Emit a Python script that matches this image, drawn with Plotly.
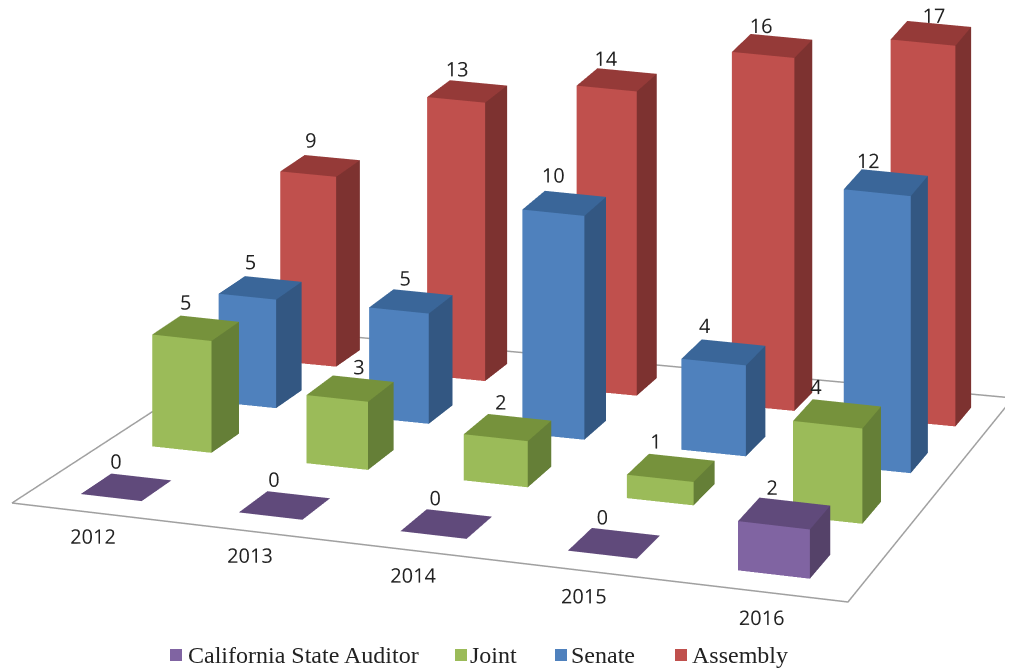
import numpy as np
import plotly.graph_objects as go

years = ["2012", "2013", "2014", "2015", "2016"]
series = ["California State Auditor", "Joint", "Senate", "Assembly"]
auditor = [0, 0, 0, 0, 2]
joint = [5, 3, 2, 1, 4]
senate = [5, 5, 10, 4, 12]
assembly = [9, 13, 14, 16, 17]
values = [auditor, joint, senate, assembly]
front_colors = ["#8064A2", "#9BBB59", "#4F81BD", "#C0504D"]
top_colors = ["#604A7B", "#76923C", "#3A6699", "#953A38"]
side_colors = ["#554269", "#657F37", "#335782", "#7D3230"]

# floor outline, in data units of the floor plane
floor_x = [-0.134, 5.195, 4.746, 0.189]
floor_y = [-0.004, -0.189, 4.102, 3.896]
# nudges that imitate the reference's perspective, in category widths
cat_shift = [0.01, 0.035, 0.04, 0.04, 0.015]
row_shift = [0.003, 0.008, 0.013, 0.02, 0.03]
# label placement nudges per series: sideways (category widths) and upward (value units)
label_side = [[0, 0, 0, 0, 0],
              [0, 0.125, 0.025, -0.03, -0.055],
              [0, 0.03, 0, -0.05, -0.035],
              [0, 0, 0, 0, 0.09]]
label_up = [[1.1, 1.1, 1.1, 1.1, 1.1],
            [1.1, 1.0, 1.1, 1.1, 1.1],
            [1.1, 1.0, 1.2, 1.1, 0.9],
            [1.1, 0.95, 0.9, 0.85, 0.8]]

# orthographic view
TH, EL, AX, AY, AZ = -1.2263, 0.3028, 1.6, 1.2373, 0.8888
S, CX0, CY0 = 527.1733, 540.6010, 232.4075
Zmax = 20.0
HH = 332.0
CX, CY = 510.5, 340.0
m = S/HH
d = np.array([np.cos(EL)*np.cos(TH), np.cos(EL)*np.sin(TH), np.sin(EL)])
r = np.cross(-d, [0, 0, 1.0]); r /= np.linalg.norm(r)
u_ = np.cross(r, -d)
cen = r*((CX-CX0)/HH) + u_*((CY0-CY)/HH)
eye = cen + 2*d

# map the category/series grid on to the floor quadrilateral
grid = [(0, 0), (5, 0), (5, 4), (0, 4)]
M, R = [], []
for (a, b), X, Y in zip(grid, floor_x, floor_y):
    M.append([a, b, 1, 0, 0, 0, -a*X, -b*X]); R.append(X)
    M.append([0, 0, 0, a, b, 1, -a*Y, -b*Y]); R.append(Y)
h = np.linalg.solve(np.array(M, float), np.array(R, float))

def warp(a, b):
    w = h[6]*a + h[7]*b + 1
    return (h[0]*a+h[1]*b+h[2])/w, (h[3]*a+h[4]*b+h[5])/w, w

wr = warp(4.5, 3.5)[2]

def zscale(a, b):
    return (wr/warp(a, b)[2])**0.8

W, D = 0.40, 0.42
fig = go.Figure()
fig.add_trace(go.Scatter3d(x=floor_x+floor_x[:1], y=floor_y+floor_y[:1], z=[0]*5, mode="lines",
                           line=dict(color="#A0A0A0", width=3), hoverinfo="skip", showlegend=False))
label_font = dict(family="Open Sans", size=20, color="#222")
for s_ in range(3, -1, -1):
    xs, ys, zs, ii, jj, kk, fc = [], [], [], [], [], [], []
    lx, ly, lz = [], [], []
    for c_ in range(5):
        a0, b0 = c_+.5+cat_shift[c_]+s_*row_shift[c_], s_+.5
        v = values[s_][c_]*zscale(a0, b0)
        n = len(xs)
        corners = [(a0-W/2, b0-D/2), (a0+W/2, b0-D/2), (a0+W/2, b0+D/2), (a0-W/2, b0+D/2)]
        wc = [warp(*q) for q in corners]
        xs += [q[0] for q in wc]*2
        ys += [q[1] for q in wc]*2
        zs += [0]*4+[v]*4
        for a, b, col in [((0, 1, 5), (0, 5, 4), front_colors[s_]), ((1, 2, 6), (1, 6, 5), side_colors[s_]), ((4, 5, 6), (4, 6, 7), top_colors[s_])]:
            for t in (a, b):
                ii.append(n + t[0]); jj.append(n + t[1]); kk.append(n + t[2]); fc.append(col)
        lp = warp(a0-.07+label_side[s_][c_], b0)
        lx.append(lp[0]); ly.append(lp[1]); lz.append(v+label_up[s_][c_])
    fig.add_trace(go.Mesh3d(x=xs, y=ys, z=zs, i=ii, j=jj, k=kk, facecolor=fc, flatshading=True,
                            lighting=dict(ambient=1, diffuse=0, specular=0, fresnel=0), hoverinfo="skip", showlegend=False))
    fig.add_trace(go.Scatter3d(x=lx, y=ly, z=lz, mode="text", text=[str(v) for v in values[s_]], textfont=label_font,
                               textposition="middle center", hoverinfo="skip", showlegend=False))
yl = [warp(c_*0.98+.72, -.39) for c_ in range(5)]
fig.add_trace(go.Scatter3d(x=[q[0] for q in yl], y=[q[1] for q in yl], z=[0]*5, mode="text", text=years, textfont=label_font,
                           textposition="middle center", hoverinfo="skip", showlegend=False))

leg_sq = [176, 461, 561, 681]
leg_tx = [186, 468, 569, 690]
shapes, ann = [], []
for i in range(4):
    px = lambda X: (X-8)/1005
    py = lambda Y: 1-(Y-8)/664
    shapes.append(dict(type="rect", xref="paper", yref="paper", x0=px(leg_sq[i]-6), x1=px(leg_sq[i]+6), y0=py(661), y1=py(649),
                       fillcolor=front_colors[i], line=dict(width=0)))
    ann.append(dict(text=series[i], xref="paper", yref="paper", x=px(leg_tx[i]), y=py(655), xanchor="left", yanchor="middle", showarrow=False,
                    font=dict(family="Liberation Serif", size=24, color="#222")))
fig.update_layout(
    width=1005, height=664, margin=dict(l=0, r=0, t=0, b=0), paper_bgcolor="white", showlegend=False,
    shapes=shapes, annotations=ann,
    scene=dict(
        domain=dict(x=[0, 1], y=[0, 1]),
        xaxis=dict(visible=False, range=[-1, 6]), yaxis=dict(visible=False, range=[-1, 5]), zaxis=dict(visible=False, range=[0, Zmax]),
        aspectmode="manual", aspectratio=dict(x=float(AX*m*7/5), y=float(AY*m*6/4), z=float(AZ*m)),
        camera=dict(eye=dict(x=float(eye[0]), y=float(eye[1]), z=float(eye[2])), center=dict(x=float(cen[0]), y=float(cen[1]), z=float(cen[2])),
                    up=dict(x=0, y=0, z=1), projection=dict(type="orthographic")),
    ),
)
fig.write_html("out.html")
